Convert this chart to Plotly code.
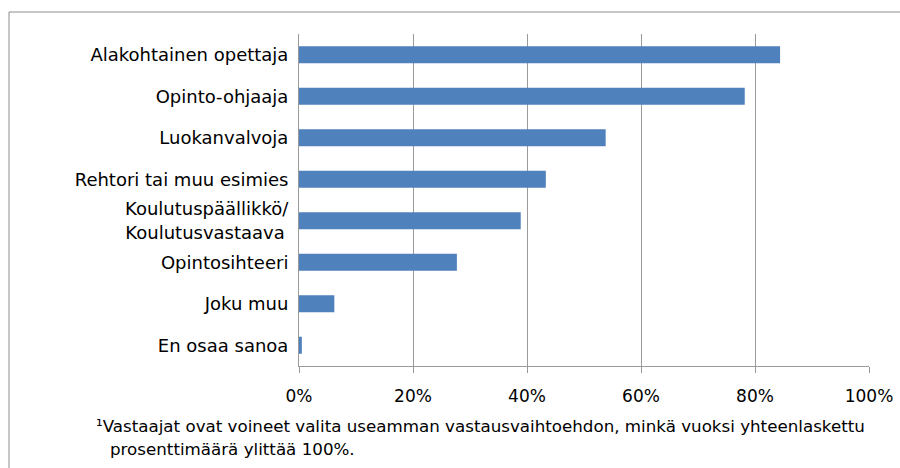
import plotly.graph_objects as go

categories = [
    "Alakohtainen opettaja",
    "Opinto-ohjaaja",
    "Luokanvalvoja",
    "Rehtori tai muu esimies",
    "Koulutuspäällikkö/<br>Koulutusvastaava\u2009",
    "Opintosihteeri",
    "Joku muu",
    "En osaa sanoa",
]
values = [84.4, 78.2, 53.8, 43.3, 38.9, 27.7, 6.2, 0.5]
x_ticks = [0, 20, 40, 60, 80, 100]
x_tick_labels = ["0%", "20%", "40%", "60%", "80%", "100%"]

footnote_1 = "¹Vastaajat ovat voineet valita useamman vastausvaihtoehdon, minkä vuoksi yhteenlaskettu"
footnote_2 = "prosenttimäärä ylittää 100%."

FONT = "DejaVu Sans"
GRID = "#9a9a9a"

# plot area in pixels: x 299..869, y 34..366
L, R, T, B = 299, 31, 34, 102
PW, PH = 900 - L - R, 468 - T - B


def px_x(p):
    return (p - L) / PW


def px_y(p):
    return (468 - B - p) / PH


fig = go.Figure(
    go.Bar(
        x=values,
        y=categories,
        orientation="h",
        marker=dict(color="#4F81BD", line=dict(width=0)),
        hoverinfo="x+y",
    )
)

fig.update_layout(
    width=900,
    height=468,
    margin=dict(l=L, r=R, t=T, b=B, autoexpand=False),
    paper_bgcolor="white",
    plot_bgcolor="white",
    bargap=0.59,
    showlegend=False,
    font=dict(family=FONT, size=14, color="#000000"),
)

fig.update_xaxes(
    range=[0, 100],
    tickvals=x_ticks,
    ticktext=x_tick_labels,
    showgrid=True,
    gridcolor=GRID,
    gridwidth=1,
    zeroline=False,
    showline=True,
    linecolor=GRID,
    ticks="outside",
    ticklen=6,
    tickcolor=GRID,
    ticklabelstandoff=9,
    tickfont=dict(size=17),
    automargin=False,
    fixedrange=True,
)
fig.update_yaxes(
    categoryorder="array",
    categoryarray=categories[::-1],
    showgrid=False,
    showline=True,
    linecolor=GRID,
    ticks="",
    ticklabelstandoff=6,
    tickfont=dict(size=18),
    automargin=False,
    fixedrange=True,
)

# outer chart border (right and bottom edges fall outside the picture)
fig.add_shape(
    type="rect",
    xref="paper",
    yref="paper",
    x0=px_x(9),
    x1=px_x(910),
    y0=px_y(480),
    y1=px_y(12),
    line=dict(color="#8c8c8c", width=1),
    layer="below",
)

fig.add_annotation(
    text=footnote_1,
    xref="paper",
    yref="paper",
    x=px_x(94),
    y=px_y(426),
    xanchor="left",
    yanchor="middle",
    showarrow=False,
    font=dict(size=16.7),
)
fig.add_annotation(
    text=footnote_2,
    xref="paper",
    yref="paper",
    x=px_x(108),
    y=px_y(449),
    xanchor="left",
    yanchor="middle",
    showarrow=False,
    font=dict(size=16.7),
)

fig.write_html(
    "out.html",
    config={"displayModeBar": False},
    post_script="document.body.style.margin='0';",
)
